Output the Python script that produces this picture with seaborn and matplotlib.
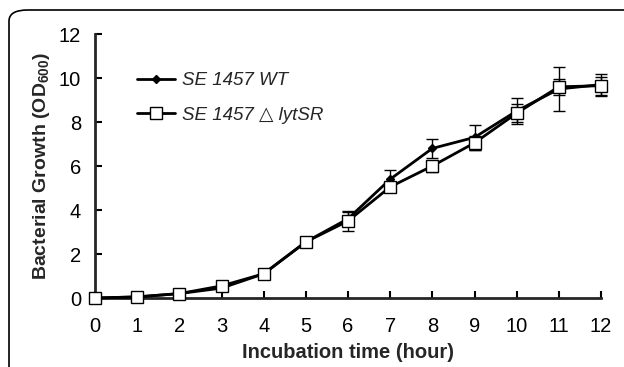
import numpy as np
import pandas as pd
import matplotlib
matplotlib.use("Agg")
import matplotlib.pyplot as plt
import seaborn as sns
from matplotlib.patches import FancyBboxPatch

hours = [0, 1, 2, 3, 4, 5, 6, 7, 8, 9, 10, 11, 12]
wt = [0.0, 0.05, 0.2, 0.45, 1.1, 2.55, 3.6, 5.4, 6.8, 7.3, 8.5, 9.5, 9.7]
wt_err = [0.0, 0.02, 0.05, 0.08, 0.1, 0.15, 0.3, 0.4, 0.45, 0.55, 0.6, 1.0, 0.5]
mut = [0.0, 0.05, 0.2, 0.55, 1.1, 2.55, 3.5, 5.05, 6.0, 7.05, 8.4, 9.6, 9.65]
mut_err = [0.0, 0.02, 0.05, 0.08, 0.1, 0.15, 0.45, 0.2, 0.25, 0.3, 0.4, 0.35, 0.4]
labels = ["SE 1457 WT", "SE 1457 \u25b3 lytSR"]

sns.set_style("ticks")
plt.rcParams["font.family"] = ["Liberation Sans", "DejaVu Sans"]
plt.rcParams["mathtext.fontset"] = "custom"
plt.rcParams["mathtext.rm"] = "Liberation Sans"
plt.rcParams["mathtext.bf"] = "Liberation Sans:bold"

df = pd.DataFrame({
    "hour": hours * 2,
    "od": wt + mut,
    "strain": [labels[0]] * len(hours) + [labels[1]] * len(hours),
})

fig = plt.figure(figsize=(6.24, 3.67), dpi=100)
# page frame: only the top and left edges with the rounded corner are visible
frame = FancyBboxPatch((9 / 624, -0.2), 1.3, 1 - 10 / 367 + 0.2,
                       boxstyle="round,pad=0,rounding_size=0.03",
                       transform=fig.transFigure, fill=False, lw=1.2,
                       ec="black", clip_on=False)
fig.patches.append(frame)

ax = fig.add_axes([95 / 624, 1 - 298 / 367, (601 - 95) / 624, (298 - 34) / 367])

# lines with markers first, so ax.lines[0:2] are the two series
sns.lineplot(data=df, x="hour", y="od", hue="strain", style="strain",
             palette=["black", "black"], markers={labels[0]: "D", labels[1]: "s"},
             dashes=False, lw=2, ax=ax, legend=False, zorder=3)
series = list(ax.lines[:2])
for line, ms, mfc in zip(series, [4, 8], ["black", "white"]):
    line.set_markersize(ms)
    line.set_markerfacecolor(mfc)
    line.set_markeredgecolor("black")
    line.set_markeredgewidth(1.0)
    line.set_clip_on(False)

ax.errorbar(hours, wt, yerr=wt_err, fmt="none", ecolor="black",
            elinewidth=1.0, capsize=4, capthick=1.0, clip_on=False, zorder=2)
ax.errorbar(hours, mut, yerr=mut_err, fmt="none", ecolor="black",
            elinewidth=1.0, capsize=4, capthick=1.0, clip_on=False, zorder=2)

ax.legend(series, labels, loc="upper left", bbox_to_anchor=(0.05, 0.92),
          frameon=False, handlelength=2.0, handletextpad=0.4, labelspacing=0.95,
          prop={"style": "italic", "size": 13.5})

ax.set_xlim(0, 12)
ax.set_ylim(0, 12)
ax.set_xticks(range(0, 13))
ax.set_yticks(range(0, 13, 2))
ax.tick_params(direction="in", length=5, width=1.5, labelsize=14.5, pad=14, colors="black")
ax.tick_params(axis="y", pad=10)
for s in ["left", "bottom"]:
    ax.spines[s].set_linewidth(2)
sns.despine(ax=ax)
ax.set_xlabel("Incubation time (hour)", fontsize=14.5, fontweight="bold", labelpad=5)
ax.set_ylabel(r"Bacterial Growth (OD$_{\mathbf{600}}$)", fontsize=14, fontweight="bold", labelpad=5)

fig.savefig("out.png", dpi=100)
